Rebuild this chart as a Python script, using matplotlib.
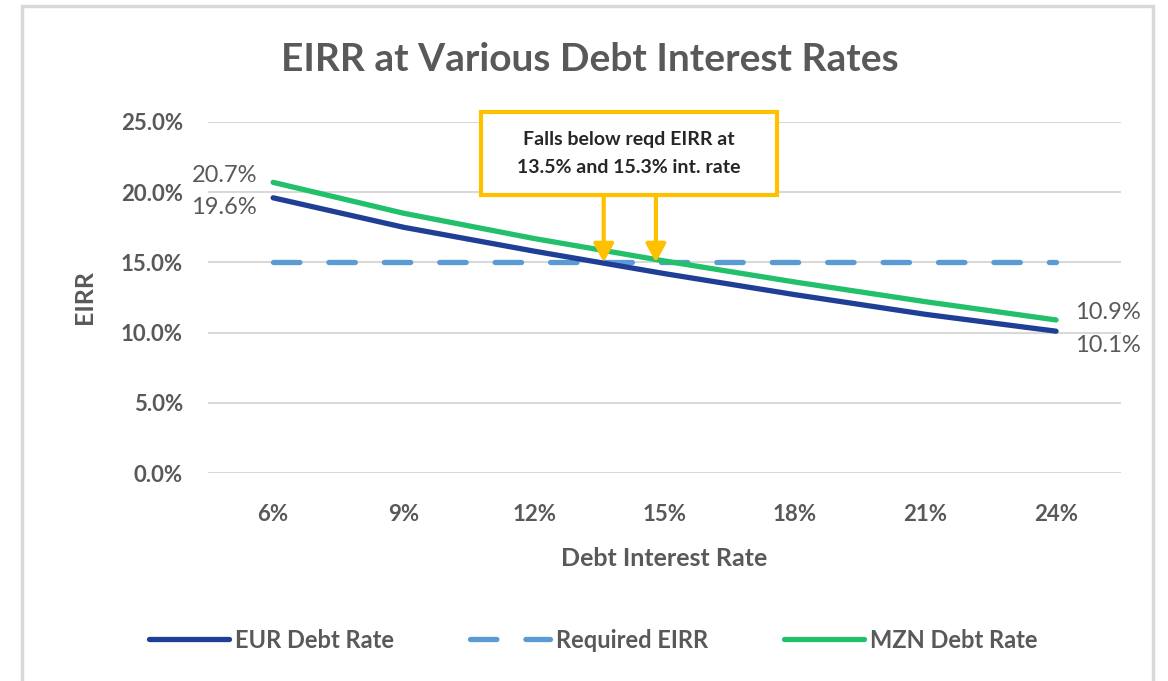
import numpy as np
import matplotlib.pyplot as plt
from matplotlib.patches import Rectangle

plt.rcParams['font.family'] = ['Lato', 'DejaVu Sans']

rates = [6, 9, 12, 15, 18, 21, 24]
rate_labels = ['6%', '9%', '12%', '15%', '18%', '21%', '24%']
eur = [19.6, 17.5, 15.8, 14.2, 12.7, 11.3, 10.1]
mzn = [20.7, 18.5, 16.7, 15.1, 13.6, 12.2, 10.9]
req = [15, 15, 15, 15, 15, 15, 15]
arrow_x = [13.6, 14.8]

grey = '#595959'
fig = plt.figure(figsize=(11.68, 6.81), dpi=100)
ax = fig.add_axes([0.178, 0.3054, 0.782, 0.5155])

# chart frame
fig.patches.append(Rectangle((22/1168, -0.05), 1131/1168, 1.05 - 6/681, transform=fig.transFigure,
                             fill=False, edgecolor='#d9d9d9', linewidth=2.5))

ax.plot(rates, eur, color='#1F3E96', lw=3.8, solid_capstyle='round', label='EUR Debt Rate', zorder=3)
ax.plot(rates, req, color='#5B9BD5', lw=3.8, dashes=(5, 5.5), dash_capstyle='round', label='Required EIRR', zorder=2)
ax.plot(rates, mzn, color='#22C06B', lw=3.8, solid_capstyle='round', label='MZN Debt Rate', zorder=3)

ax.set_xlim(4.5, 25.5)
ax.set_ylim(0, 25)
ax.set_yticks(np.arange(0, 26, 5))
ax.set_yticklabels(['%.1f%%' % v for v in np.arange(0, 26, 5)])
ax.set_xticks(rates)
ax.set_xticklabels(rate_labels)
ax.tick_params(length=0, labelsize=16, labelcolor=grey)
for t in ax.get_xticklabels() + ax.get_yticklabels():
    t.set_fontweight('bold')
ax.tick_params(axis='y', pad=18)
ax.tick_params(axis='x', pad=22)
ax.grid(axis='y', color='#d9d9d9', lw=1.5)
ax.set_axisbelow(True)
for s in ax.spines.values():
    s.set_visible(False)

ax.set_ylabel('EIRR', fontsize=18, fontweight='bold', color=grey, labelpad=18)
ax.set_xlabel('Debt Interest Rate', fontsize=18, fontweight='bold', color=grey, labelpad=16)
fig.text(0.505, 0.912, 'EIRR at Various Debt Interest Rates', ha='center', va='center',
         fontsize=28, fontweight='bold', color=grey)

# end-point data labels
ax.text(rates[0] - 0.37, 21.2, '%.1f%%' % mzn[0], ha='right', va='center', fontsize=17, color=grey)
ax.text(rates[0] - 0.37, 18.9, '%.1f%%' % eur[0], ha='right', va='center', fontsize=17, color=grey)
ax.text(rates[-1] + 0.44, 11.45, '%.1f%%' % mzn[-1], ha='left', va='center', fontsize=17, color=grey)
ax.text(rates[-1] + 0.44, 9.05, '%.1f%%' % eur[-1], ha='left', va='center', fontsize=17, color=grey)

# callout
ax.add_patch(Rectangle((10.78, 19.8), 6.81, 5.9, facecolor='white', edgecolor='#FFC000',
                       linewidth=3, clip_on=False, zorder=5))
ax.text(14.18, 22.75, 'Falls below reqd EIRR at\n13.5% and 15.3% int. rate', ha='center', va='center',
        fontsize=14, fontweight='bold', color='#262626', linespacing=1.75, zorder=6)
for xa in arrow_x:
    ax.annotate('', xy=(xa, 15), xytext=(xa, 19.8),
                arrowprops=dict(arrowstyle='-|>,head_width=0.3,head_length=0.55', mutation_scale=20,
                                color='#FFC000', lw=3, shrinkA=0, shrinkB=0),
                zorder=4)

fig.legend(loc='center', bbox_to_anchor=(0.508, 0.06), ncol=3, frameon=False, handlelength=3.4,
           columnspacing=3.2, handletextpad=0.25, prop={'size': 17, 'weight': 'bold'}, labelcolor=grey)

fig.savefig('out.png', dpi=100)
